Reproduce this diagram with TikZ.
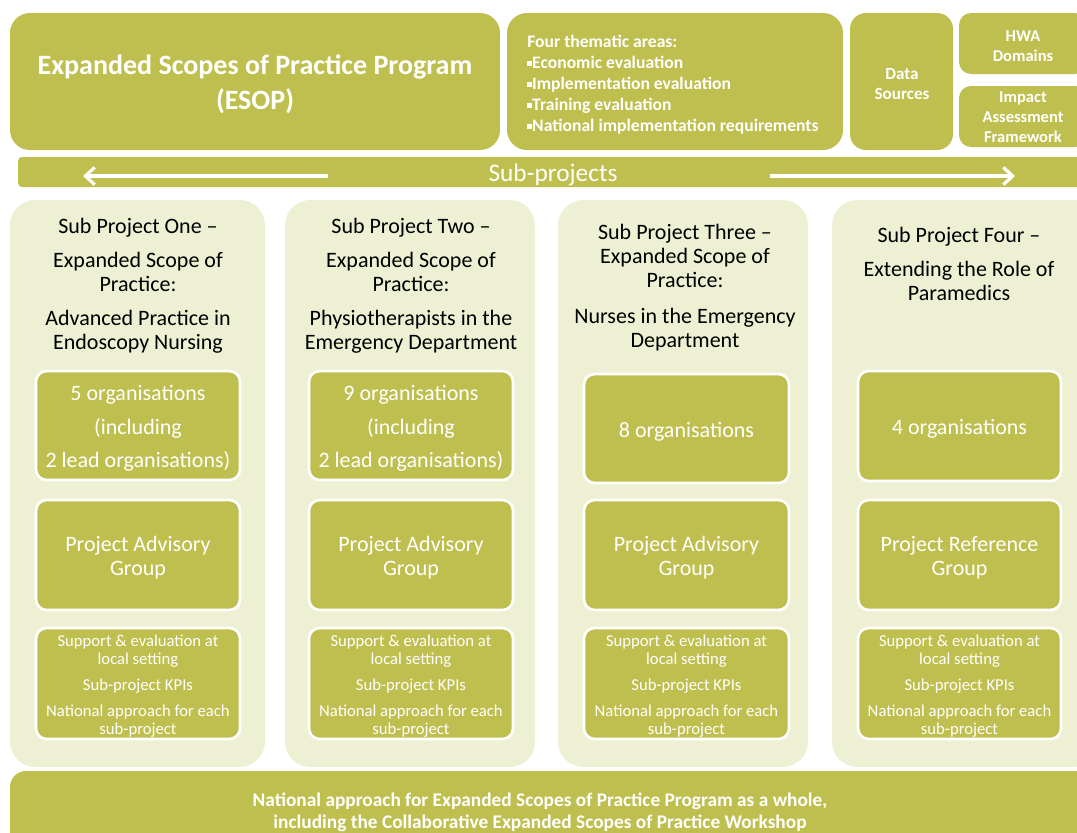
\documentclass[tikz,border=0pt]{standalone}
\usepackage{fontspec}
\setmainfont{Carlito}
\usetikzlibrary{fit,arrows.meta}
\definecolor{olive}{HTML}{BFBF4F}
\definecolor{pale}{HTML}{EEF0D4}
\newcommand\sqbul{\raisebox{0.32ex}{\rule{0.28em}{0.28em}}}
\begin{document}
\begin{tikzpicture}[x=0.75pt,y=-0.75pt,
  topbox/.style={fill=olive, draw=none, rounded corners=15pt, inner sep=0pt},
  smallbox/.style={fill=olive, draw=none, rounded corners=9pt, inner sep=0pt},
  colbg/.style={fill=pale, draw=none, rounded corners=19pt, inner sep=0pt},
  inbox/.style={fill=olive, draw=white, line width=2pt, rounded corners=8pt, inner sep=0pt},
  wtxt/.style={text=white, inner sep=0pt, align=center},
  coltitle/.style={align=center, inner sep=0pt, anchor=north, text=black, font=\fontsize{16.5}{18}\selectfont},
  bigtxt/.style={wtxt, yshift=-2.25pt, font=\fontsize{16.5}{25}\selectfont},
  midtxt/.style={wtxt, yshift=-2.25pt, font=\fontsize{16.5}{18}\selectfont},
  smalltxt/.style={wtxt, yshift=-2.25pt, font=\fontsize{12.5}{13.5}\selectfont},
  arr/.style={draw=white, line width=2.4pt, -{Straight Barb[length=7pt,width=13pt,line width=2.4pt]}}
]
\useasboundingbox (0,0) rectangle (1077,832);
\clip (0,0) rectangle (1077,832);

% top row
\node[topbox, fit={(10,13) (500,150)}] (esop) {};
\node[wtxt, font=\bfseries\fontsize{21}{26.25}\selectfont] (esoptxt) at (255,84)
  {Expanded Scopes of Practice Program\\(ESOP)};
\node[topbox, fit={(507,13) (843,150)}] (them) {};
\node[anchor=west, inner sep=0pt, text=white, align=left,
      font=\bfseries\fontsize{13.2}{15.75}\selectfont] (themtxt) at (527,85)
  {Four thematic areas:\\\sqbul Economic evaluation\\\sqbul Implementation evaluation\\\sqbul Training evaluation\\\sqbul National implementation requirements};
\node[smallbox, rounded corners=12pt, fit={(850,13) (953,150)}] (data) {};
\node[wtxt, font=\bfseries\fontsize{12.8}{15}\selectfont] (datatxt) at (902,84) {Data\\Sources};
\node[smallbox, fit={(959,13) (1087,74)}] (hwa) {};
\node[wtxt, font=\bfseries\fontsize{12.4}{15}\selectfont] (hwatxt) at (1023,46) {HWA\\Domains};
\node[smallbox, fit={(959,86) (1087,147)}] (iaf) {};
\node[wtxt, font=\bfseries\fontsize{12.4}{15}\selectfont] (iaftxt) at (1023,117.5) {Impact\\Assessment\\Framework};

% sub-projects bar
\node[fill=olive, rounded corners=3pt, inner sep=0pt, fit={(18,157) (1087,187)}] (bar) {};
\node[text=white, inner sep=0pt, font=\fontsize{19}{20}\selectfont] (subp) at (553,175) {Sub-projects};
\coordinate (la) at (328,176);
\coordinate (lb) at (83,176);
\coordinate (ra) at (770,176);
\coordinate (rb) at (1015,176);
\draw[arr] (la) -- (lb);
\draw[arr] (ra) -- (rb);

% columns
\node[colbg, fit={(10,200) (265,767)}] (c1) {};
\node[colbg, fit={(285,200) (535,767)}] (c2) {};
\node[colbg, fit={(558,200) (808,767)}] (c3) {};
\node[colbg, fit={(832,200) (1100,767)}] (c4) {};

% titles
\node[coltitle] (t1) at (138,218) {Sub Project One --\\[7.5pt]Expanded Scope of\\Practice:\\[7.5pt]Advanced Practice in\\Endoscopy Nursing};
\node[coltitle] (t2) at (411,218) {Sub Project Two --\\[7.5pt]Expanded Scope of\\Practice:\\[7.5pt]Physiotherapists in the\\Emergency Department};
\node[coltitle] (t3) at (685,224) {Sub Project Three --\\Expanded Scope of\\Practice:\\[9pt]Nurses in the Emergency\\Department};
\node[coltitle] (t4) at (959,227) {Sub Project Four --\\[7.5pt]Extending the Role of\\Paramedics};

% column 1
\node[inbox, fit={(36,371) (240,480)}] (o1) {};
\node[bigtxt] (o1t) at (o1.center) {5 organisations\\(including\\2 lead organisations)};
\node[inbox, fit={(36,500) (240,610)}] (g1) {};
\node[midtxt] (g1t) at (g1.center) {Project Advisory\\Group};
\node[inbox, fit={(36,628) (240,739)}] (s1) {};
\node[smalltxt] (s1t) at (s1.center) {Support \& evaluation at\\local setting\\[6pt]Sub-project KPIs\\[6pt]National approach for each\\sub-project};
% column 2
\node[inbox, fit={(309,371) (513,480)}] (o2) {};
\node[bigtxt] (o2t) at (o2.center) {9 organisations\\(including\\2 lead organisations)};
\node[inbox, fit={(309,500) (513,610)}] (g2) {};
\node[midtxt] (g2t) at (g2.center) {Project Advisory\\Group};
\node[inbox, fit={(309,628) (513,739)}] (s2) {};
\node[smalltxt] (s2t) at (s2.center) {Support \& evaluation at\\local setting\\[6pt]Sub-project KPIs\\[6pt]National approach for each\\sub-project};
% column 3
\node[inbox, fit={(584,374) (789,483)}] (o3) {};
\node[midtxt] (o3t) at (o3.center) {8 organisations};
\node[inbox, fit={(584,500) (789,610)}] (g3) {};
\node[midtxt] (g3t) at (g3.center) {Project Advisory\\Group};
\node[inbox, fit={(584,628) (789,739)}] (s3) {};
\node[smalltxt] (s3t) at (s3.center) {Support \& evaluation at\\local setting\\[6pt]Sub-project KPIs\\[6pt]National approach for each\\sub-project};
% column 4
\node[inbox, fit={(858,371) (1061,481)}] (o4) {};
\node[midtxt] (o4t) at (o4.center) {4 organisations};
\node[inbox, fit={(858,500) (1061,610)}] (g4) {};
\node[midtxt] (g4t) at (g4.center) {Project Reference\\Group};
\node[inbox, fit={(858,628) (1061,739)}] (s4) {};
\node[smalltxt] (s4t) at (s4.center) {Support \& evaluation at\\local setting\\[6pt]Sub-project KPIs\\[6pt]National approach for each\\sub-project};

% bottom bar
\node[fill=olive, rounded corners=12pt, inner sep=0pt, fit={(10,771) (1100,860)}] (bottom) {};
\node[wtxt, font=\bfseries\fontsize{14.5}{16.5}\selectfont] (bottxt) at (540,812)
  {National approach for Expanded Scopes of Practice Program as a whole,\\including the Collaborative Expanded Scopes of Practice Workshop};
\end{tikzpicture}
\end{document}
